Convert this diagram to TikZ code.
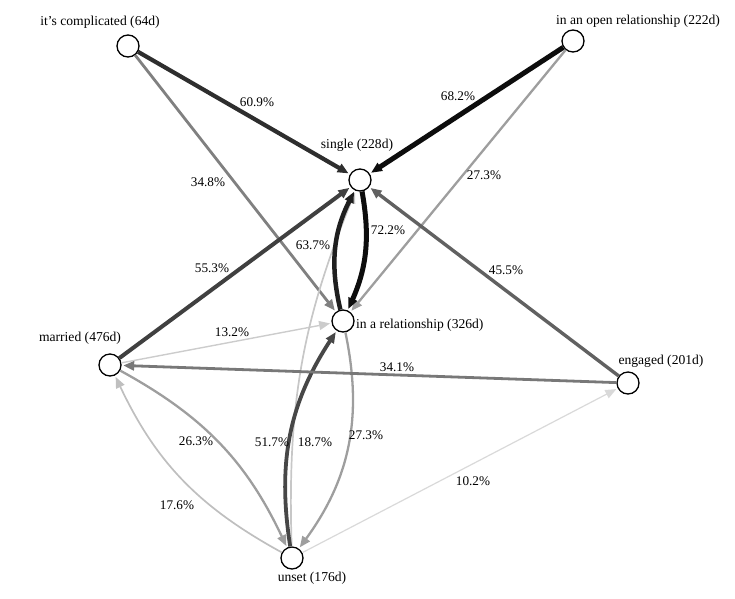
\documentclass[tikz,border=0pt]{standalone}
\usepackage{fontspec}
\setmainfont{Liberation Serif}
\usepackage{tikz}
\usetikzlibrary{arrows.meta}

\tikzset{
  state/.style={circle, draw, line width=1.3pt, fill=white, minimum size=22pt, inner sep=0pt},
  flow/.style={-{Triangle[length=11pt,width=9pt]}, shorten >=1.5pt},
  pct/.style={font=\fontsize{13.2}{15}\selectfont, inner sep=1pt},
  tag/.style={font=\fontsize{13.6}{15}\selectfont, inner sep=1pt}
}

\begin{document}
\begin{tikzpicture}[x=1pt, y=-1pt]
  \useasboundingbox (0,0) rectangle (735,598);

  % states
  \node[state] (compl) at (128,46) {};
  \node[state] (open) at (573,41) {};
  \node[state] (single) at (360,180) {};
  \node[state] (rel) at (343,321) {};
  \node[state] (married) at (110,365) {};
  \node[state] (engaged) at (628,383) {};
  \node[state] (unset) at (292,558) {};

  \node[tag] (tcompl) at (100,22) {it\textquoteright s complicated (64d)};
  \node[tag] (topen) at (638,21) {in an open relationship (222d)};
  \node[tag] (tsingle) at (357,145) {single (228d)};
  \node[tag, anchor=west] (trel) at (355,325) {in a relationship (326d)};
  \node[tag] (tmarried) at (80,338) {married (476d)};
  \node[tag] (tengaged) at (661,361) {engaged (201d)};
  \node[tag] (tunset) at (312,578) {unset (176d)};

  % transitions
  \draw[flow, line width=2.3pt, black!38] (open) -- (rel);
  \draw[flow, line width=2.8pt, black!50] (compl) -- (rel);
  \draw[flow, line width=1.4pt, black!20] (married) -- (rel);
  \draw[flow, line width=1.2pt, black!15] (unset) -- (engaged);
  \draw[flow, line width=1.7pt, black!22] (unset) to[bend left=12] (single);
  \draw[flow, line width=1.7pt, black!25] (unset) to[bend left=18] (married);
  \draw[flow, line width=2.3pt, black!38] (married) to[bend left=18] (unset);
  \draw[flow, line width=2.3pt, black!38] (rel) to[bend left=24] (unset);
  \draw[flow, line width=3.8pt, black!72] (unset) to[bend left=21] (rel);
  \draw[flow, line width=2.8pt, black!53] (engaged) -- (married);
  \draw[flow, line width=3.4pt, black!62] (engaged) -- (single);
  \draw[flow, line width=4pt, black!75] (married) -- (single);
  \draw[flow, line width=4.2pt, black!82] (compl) -- (single);
  \draw[flow, line width=5pt, black!95] (open) -- (single);
  \draw[flow, line width=4.5pt, black!88] (rel) to[bend left=20] (single);
  \draw[flow, line width=5pt, black!95] (single) to[bend left=17] (rel);

  % percentages
  \node[pct] (p1) at (257,102) {60.9\%};
  \node[pct] (p2) at (458,96) {68.2\%};
  \node[pct] (p3) at (208,182) {34.8\%};
  \node[pct] (p4) at (484,175) {27.3\%};
  \node[pct] (p5) at (313,245) {63.7\%};
  \node[pct] (p6) at (388,230) {72.2\%};
  \node[pct] (p7) at (212,268) {55.3\%};
  \node[pct] (p8) at (506,270) {45.5\%};
  \node[pct] (p9) at (232,332) {13.2\%};
  \node[pct] (p10) at (397,367) {34.1\%};
  \node[pct] (p11) at (196,441) {26.3\%};
  \node[pct] (p12) at (272,442) {51.7\%};
  \node[pct] (p13) at (315,442) {18.7\%};
  \node[pct] (p14) at (366,435) {27.3\%};
  \node[pct] (p15) at (177,505) {17.6\%};
  \node[pct] (p16) at (473,481) {10.2\%};
\end{tikzpicture}
\end{document}
